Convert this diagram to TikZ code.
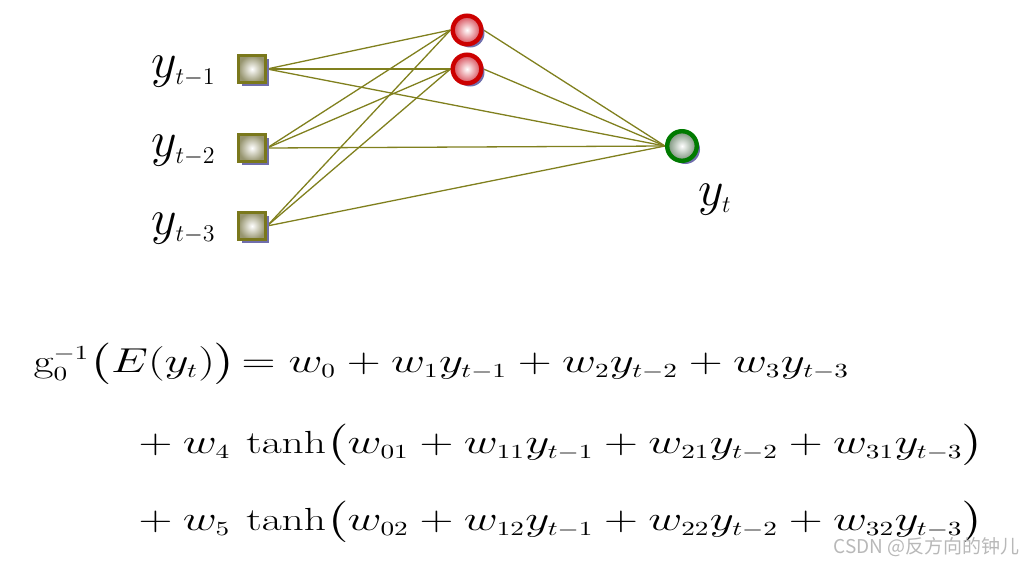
\documentclass[tikz,border=0pt]{standalone}
\usepackage{amsmath}
\usepackage{fontspec}
\newfontfamily\cjkfont{Noto Sans CJK SC}
\usetikzlibrary{shadows,backgrounds}
\DeclareMathSizes{16}{16}{10}{7}
\DeclareMathSizes{23}{23}{12.5}{10}

\definecolor{lagedge}{RGB}{122,120,28}
\definecolor{lagfill}{RGB}{150,148,110}
\definecolor{hidedge}{RGB}{204,0,0}
\definecolor{hidfill}{RGB}{214,72,84}
\definecolor{outedge}{RGB}{0,122,0}
\definecolor{outfill}{RGB}{118,142,118}
\definecolor{shadowcol}{RGB}{112,110,172}
\definecolor{wirecol}{RGB}{128,128,30}

\begin{document}
\begin{tikzpicture}[x=0.5pt, y=-0.5pt,
  dshadow/.style={drop shadow={shadow xshift=1.6pt, shadow yshift=-1.6pt,
    fill=shadowcol, opacity=1}},
  lagbox/.style={rectangle, draw=lagedge, line width=1.5pt, minimum size=13.5pt,
    inner sep=0pt, inner color=white, outer color=lagfill, dshadow},
  hidnode/.style={circle, draw=hidedge, line width=2.2pt, minimum size=14.3pt,
    inner sep=0pt, inner color=white, outer color=hidfill, dshadow},
  outnode/.style={circle, draw=outedge, line width=2.2pt, minimum size=14.8pt,
    inner sep=0pt, inner color=white, outer color=outfill, dshadow},
  wire/.style={draw=wirecol, line width=0.65pt},
  lbl/.style={inner sep=0pt, font=\fontsize{23}{27}\selectfont},
  eqn/.style={anchor=base west, inner sep=0pt,
    font=\fontsize{16}{19}\selectfont, xscale=1.36, transform shape},
  wmark/.style={anchor=base east, inner sep=0pt, text=black!28,
    font=\cjkfont\fontsize{9.5}{11}\selectfont}]
  \useasboundingbox (0,0) rectangle (1024,563);

  %% Lagged inputs
  \foreach \i/\yy in {1/69,2/148,3/226} {
    \node[lagbox] (x\i) at (252,\yy) {};
    \node[lbl, anchor=base east] (lx\i) at (216,\yy+8) {$y_{t-\i}$};
  }
  %% Hidden tanh units
  \node[hidnode] (h1) at (467,30) {};
  \node[hidnode] (h2) at (467,69) {};
  %% Output
  \node[outnode] (o) at (682,146) {};
  \node[lbl, anchor=base west] (lo) at (698,205) {$y_t$};

  %% Connections
  \begin{scope}[on background layer]
    \foreach \i in {1,2,3} {
      \foreach \j in {1,2}
        \draw[wire] (x\i.east) -- (h\j.west);
      \draw[wire] (x\i.east) -- (o.west);
    }
    \foreach \j in {1,2}
      \draw[wire] (h\j.east) -- (o.west);
  \end{scope}

  %% Model equation
  \node[eqn] (eq1) at (33,372)
    {$\mathrm{g}_0^{-1}\bigl(E(y_t)\bigr)\!= w_0 + w_1y_{t-1} + w_2y_{t-2} + w_3y_{t-3}$};
  \node[eqn] (eq2) at (138,453)
    {$+\:w_4\,\tanh\bigl(w_{01} + w_{11}y_{t-1} + w_{21}y_{t-2} + w_{31}y_{t-3}\bigr)$};
  \node[eqn] (eq3) at (138,530)
    {$+\:w_5\,\tanh\bigl(w_{02} + w_{12}y_{t-1} + w_{22}y_{t-2} + w_{32}y_{t-3}\bigr)$};

  \node[wmark] (wm) at (1020,553) {CSDN @反方向的钟儿};
\end{tikzpicture}
\end{document}
